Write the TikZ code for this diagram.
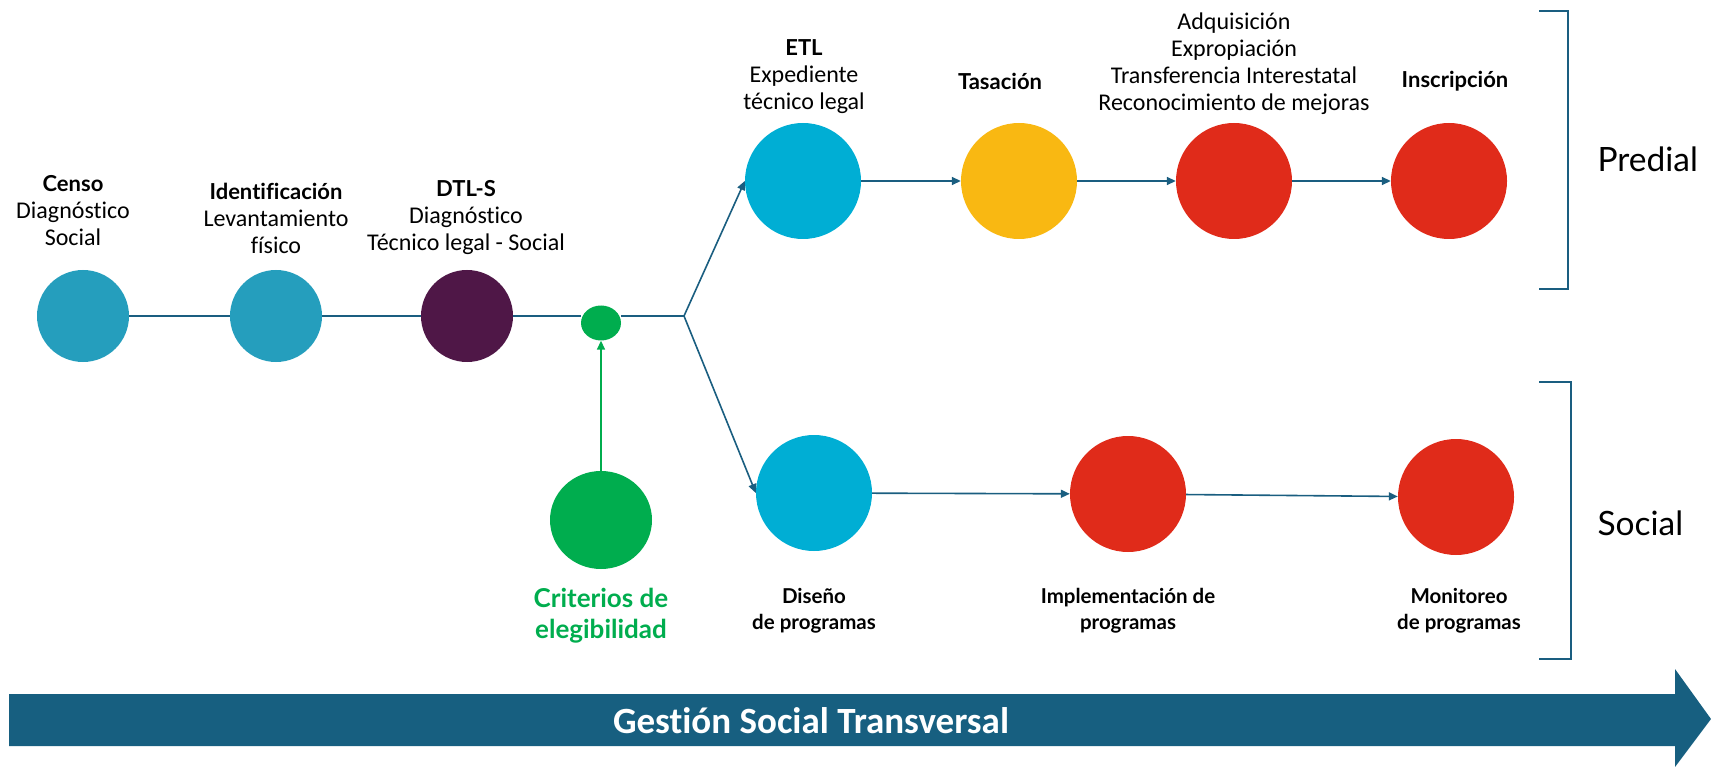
\documentclass[tikz,border=0pt]{standalone}
\usepackage{fontspec}
\setmainfont{Carlito}[Ligatures=NoCommon]
\newfontfamily\hd{Lato}[Ligatures=NoCommon]
\usetikzlibrary{arrows.meta,shapes.geometric}
\definecolor{teal1}{HTML}{259EBD}
\definecolor{purp}{HTML}{4F1747}
\definecolor{grn}{HTML}{00AD4E}
\definecolor{cyan1}{HTML}{00AED4}
\definecolor{yel}{HTML}{F9B812}
\definecolor{red1}{HTML}{E02B1A}
\definecolor{con}{HTML}{1A5E80}
\definecolor{band}{HTML}{175F80}
\newcommand\hdb{\hd\bfseries\fontsize{22}{27}\selectfont}
\tikzset{
  dot/.style={circle,inner sep=0pt,minimum size=#1},
  lab/.style={align=center,font=\fontsize{24}{27}\selectfont},
  hdl/.style={align=center,font=\hdb},
  blab/.style={align=center,font=\hd\bfseries\fontsize{20.5}{26}\selectfont},
  con/.style={draw=con,line width=1.6pt},
  arr/.style={con,-{Triangle[length=9pt,width=8pt]}},
  brk/.style={draw=con,line width=1.8pt},
  side/.style={font=\hd\fontsize{33.5}{38}\selectfont,anchor=west},
}
\begin{document}
\begin{tikzpicture}[x=1pt,y=-1pt]
\useasboundingbox (0,0) rectangle (1711,767);
% nodes first row
\node[dot=92pt,fill=teal1] (censo) at (83,316) {};
\node[dot=92pt,fill=teal1] (ident) at (276,316) {};
\node[dot=92pt,fill=purp] (dtls) at (467,316) {};
\node[ellipse,inner sep=0pt,minimum width=40pt,minimum height=35pt,fill=grn] (sg) at (601,323) {};
\coordinate (j) at (684,316);
\node[ellipse,inner sep=0pt,minimum width=102pt,minimum height=98pt,fill=grn] (crit) at (601,520) {};
% predial row
\node[dot=116pt,fill=cyan1] (etl) at (803,181) {};
\node[dot=116pt,fill=yel] (tas) at (1019,181) {};
\node[dot=116pt,fill=red1] (adq) at (1234,181) {};
\node[dot=116pt,fill=red1] (ins) at (1449,181) {};
% social row
\node[dot=116pt,fill=cyan1] (dis) at (814,493) {};
\node[dot=116pt,fill=red1] (imp) at (1128,494) {};
\node[dot=116pt,fill=red1] (mon) at (1456,497) {};
% connectors
\draw[con] (censo.east) -- (ident.west);
\draw[con] (ident.east) -- (dtls.west);
\draw[con] (dtls.east) -- (sg.west |- dtls.east);
\draw[con] (sg.east |- dtls.east) -- (j);
\draw[arr] (j) -- (etl.west);
\draw[arr] (j) -- (dis.west);
\draw[arr] (etl) -- (tas);
\draw[arr] (tas) -- (adq);
\draw[arr] (adq) -- (ins);
\draw[arr] (dis) -- (imp);
\draw[arr] (imp) -- (mon);
\draw[draw=grn,line width=1.6pt,-{Triangle[length=9pt,width=8pt]}] (crit.north) -- (sg.south);
% labels
\node[lab] (lcenso) at (73,211) {{\hdb Censo}\\Diagnóstico\\Social};
\node[lab] (lident) at (276,218) {{\hdb Identificación}\\Levantamiento\\físico};
\node[lab] (ldtls) at (466,218) {{\hdb DTL-S}\\Diagnóstico\\Técnico legal - Social};
\node[lab] (letl) at (804,77) {{\hdb ETL}\\Expediente\\técnico legal};
\node[hdl] (ltas) at (1000,81) {Tasación};
\node[lab] (ladq) at (1234,64) {Adquisición\\Expropiación\\Transferencia Interestatal\\Reconocimiento de mejoras};
\node[hdl] (lins) at (1455,81) {Inscripción};
\node[blab] (ldis) at (814,611) {Diseño\\de programas};
\node[blab] (limp) at (1128,611) {Implementación de\\programas};
\node[blab] (lmon) at (1459,611) {Monitoreo\\de programas};
\node[align=center,text=grn,font=\hd\bfseries\fontsize{26}{31}\selectfont] (lcrit) at (601,616) {Criterios de\\elegibilidad};
% brackets
\draw[brk] (1539,11) -- (1568,11) -- (1568,289) -- (1539,289);
\draw[brk] (1539,382) -- (1571,382) -- (1571,659) -- (1539,659);
\node[side] (pred) at (1594,159) {Predial};
\node[side] (soc) at (1594,523) {Social};
% bottom band arrow
\fill[band] (9,694) -- (1675,694) -- (1675,669) -- (1711,719) -- (1675,767) -- (1675,746) -- (9,746) -- cycle;
\node[text=white,font=\bfseries\fontsize{37}{40}\selectfont] (gst) at (811,721) {Gestión Social Transversal};
\end{tikzpicture}
\end{document}
